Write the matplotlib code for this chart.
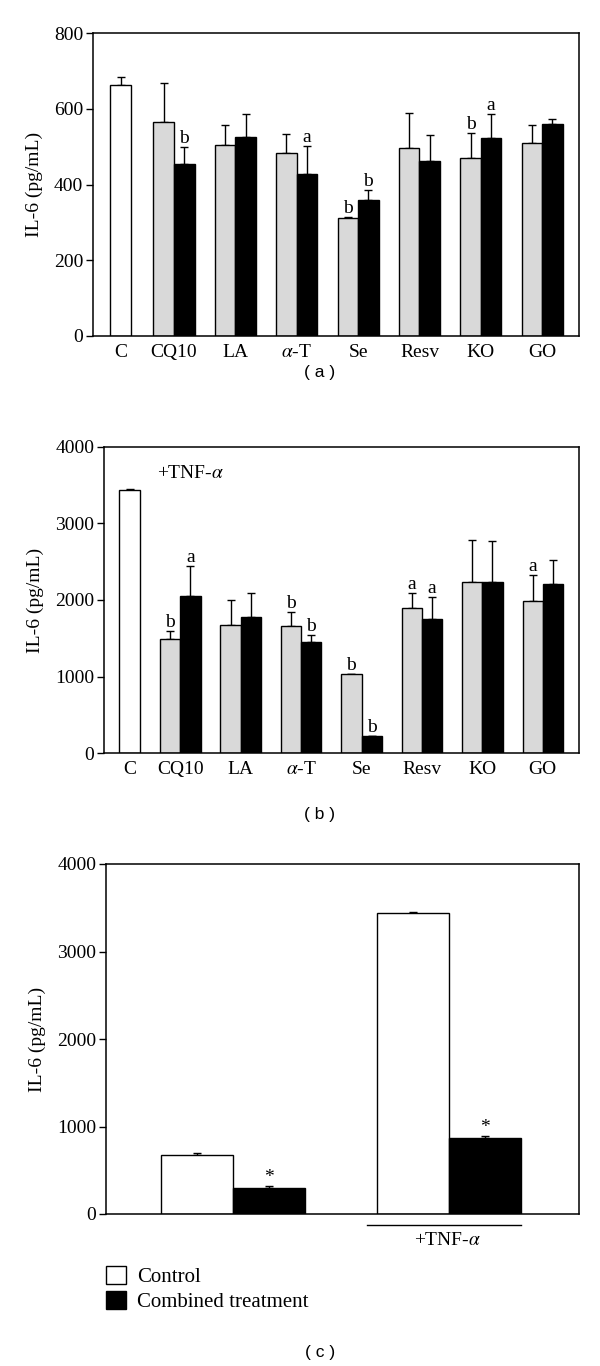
import matplotlib
matplotlib.use("Agg")
import matplotlib.pyplot as plt
import numpy as np
from matplotlib.patches import Patch

plt.rcParams['font.family'] = ['Liberation Serif', 'DejaVu Serif']
plt.rcParams['mathtext.fontset'] = 'stix'

# ---------------- data ----------------
categories = ['C', 'CQ10', 'LA', r'$\alpha$-T', 'Se', 'Resv', 'KO', 'GO']

# panel (a)
a_control = 664
a_control_err = 21
a_grey = [566, 503, 482, 312, 497, 470, 510]
a_grey_err = [103, 53, 51, 3, 92, 65, 48]
a_black = [455, 526, 427, 358, 461, 524, 560]
a_black_err = [45, 59, 74, 27, 70, 62, 12]
a_grey_lbl = ['', '', '', 'b', '', 'b', '']
a_black_lbl = ['b', '', 'a', 'b', '', 'a', '']

# panel (b)
b_control = 3441
b_control_err = 9
b_grey = [1493, 1672, 1664, 1031, 1891, 2240, 1991]
b_grey_err = [97, 324, 179, 5, 196, 550, 337]
b_black = [2052, 1777, 1454, 218, 1747, 2231, 2205]
b_black_err = [393, 310, 87, 5, 297, 538, 319]
b_grey_lbl = ['b', '', 'b', 'b', 'a', '', 'a']
b_black_lbl = ['a', '', 'b', 'b', 'a', '', '']

# panel (c)
c_groups = ['', '+TNF-$\\alpha$']
c_control = [669, 3441]
c_control_err = [23, 11]
c_combined = [297, 867]
c_combined_err = [19, 23]
c_combined_lbl = ['*', '*']
legend_labels = ['Control', 'Combined treatment']

GREY = '#d9d9d9'
W = 0.335
FS_TICK = 14
FS_ANN = 14

fig = plt.figure(figsize=(6, 13.66), dpi=100)


def style_axes(ax, ymax, step):
    ax.set_ylim(0, ymax)
    ax.set_yticks(np.arange(0, ymax + 1, step))
    ax.tick_params(axis='y', direction='out', length=5, width=1, labelsize=FS_TICK, pad=2)
    ax.tick_params(axis='x', length=0, labelsize=FS_TICK, pad=6)
    for s in ax.spines.values():
        s.set_linewidth(1.1)
    ax.set_ylabel('IL-6 (pg/mL)', fontsize=FS_TICK, labelpad=8)


def draw_top_err(ax, x, y, e):
    ax.errorbar(x, y, yerr=[np.zeros(len(np.atleast_1d(e))), e], fmt='none',
                ecolor='black', elinewidth=1, capsize=3, capthick=1, zorder=1)


def annotate(ax, xs, ys, errs, labels):
    for x, y, e, t in zip(xs, ys, errs, labels):
        if t:
            ax.annotate(t, (x, y + e), xytext=(0, 0), textcoords='offset points',
                        ha='center', va='bottom', fontsize=FS_ANN)


def bar_panel(ax, c_pos, ctrl, ctrl_err, grey, grey_err, black, black_err,
              glbl, blbl, ymax, step, xlim):
    pos = np.arange(1, len(grey) + 1)
    ax.bar([c_pos], [ctrl], W, color='white', edgecolor='black', linewidth=1, zorder=2)
    ax.bar(pos - W / 2, grey, W, color=GREY, edgecolor='black', linewidth=1, zorder=2)
    ax.bar(pos + W / 2, black, W, color='black', edgecolor='black', linewidth=1, zorder=2)
    draw_top_err(ax, [c_pos], [ctrl], [ctrl_err])
    draw_top_err(ax, pos - W / 2, grey, grey_err)
    draw_top_err(ax, pos + W / 2, black, black_err)
    annotate(ax, pos - W / 2, grey, grey_err, glbl)
    annotate(ax, pos + W / 2, black, black_err, blbl)
    ax.set_xticks(np.concatenate([[c_pos], pos]))
    ax.set_xticklabels(categories)
    ax.set_xlim(*xlim)
    style_axes(ax, ymax, step)


# ---- panel a ----
ax_a = fig.add_axes([93 / 600, 1 - 336 / 1366, 486 / 600, 303 / 1366])
bar_panel(ax_a, 0.13, a_control, a_control_err, a_grey, a_grey_err, a_black, a_black_err,
          a_grey_lbl, a_black_lbl, 800, 200, (-0.32, 7.60))

# ---- panel b ----
ax_b = fig.add_axes([104 / 600, 1 - 753 / 1366, 475 / 600, 306 / 1366])
bar_panel(ax_b, 0.16, b_control, b_control_err, b_grey, b_grey_err, b_black, b_black_err,
          b_grey_lbl, b_black_lbl, 4000, 1000, (-0.263, 7.60))
ax_b.text(0.112, 0.915, '+TNF-$\\alpha$', transform=ax_b.transAxes, fontsize=FS_TICK,
          ha='left', va='center')

# ---- panel c ----
ax_c = fig.add_axes([106 / 600, 1 - 1214 / 1366, 473 / 600, 350 / 1366])
gpos = np.arange(len(c_control))
Wc = 0.333
ax_c.bar(gpos - Wc / 2, c_control, Wc, color='white', edgecolor='black', linewidth=1, zorder=2,
         label=legend_labels[0])
ax_c.bar(gpos + Wc / 2, c_combined, Wc, color='black', edgecolor='black', linewidth=1, zorder=2,
         label=legend_labels[1])
draw_top_err(ax_c, gpos - Wc / 2, c_control, c_control_err)
draw_top_err(ax_c, gpos + Wc / 2, c_combined, c_combined_err)
annotate(ax_c, gpos + Wc / 2, c_combined, c_combined_err, c_combined_lbl)
ax_c.set_xlim(-0.588, 1.60)
ax_c.set_xticks([])
style_axes(ax_c, 4000, 1000)

# +TNF-alpha bracket under group 2
trans = matplotlib.transforms.blended_transform_factory(ax_c.transData, ax_c.transAxes)
ax_c.plot([gpos[1] - 0.38, gpos[1] + 0.33], [-0.031, -0.031], color='black', lw=1,
          transform=trans, clip_on=False)
ax_c.text(gpos[1] - 0.01, -0.075, c_groups[1], transform=trans, ha='center', va='center',
          fontsize=FS_TICK)

handles = [Patch(facecolor='white', edgecolor='black', linewidth=1),
           Patch(facecolor='black', edgecolor='black', linewidth=1)]
fig.legend(handles, legend_labels, loc='upper left',
           bbox_to_anchor=(106 / 600, 1 - 1266 / 1366), bbox_transform=fig.transFigure,
           frameon=False, fontsize=15, handlelength=0.95, handleheight=0.95,
           handletextpad=0.55, labelspacing=0.2, borderpad=0, borderaxespad=0)

# panel labels
for lbl, y in [('( a )', 373), ('( b )', 815), ('( c )', 1352)]:
    fig.text(320 / 600, 1 - y / 1366, lbl, ha='center', va='center', fontsize=12.5,
             family=['Liberation Sans', 'DejaVu Sans'])

fig.savefig('out.png', dpi=100)
